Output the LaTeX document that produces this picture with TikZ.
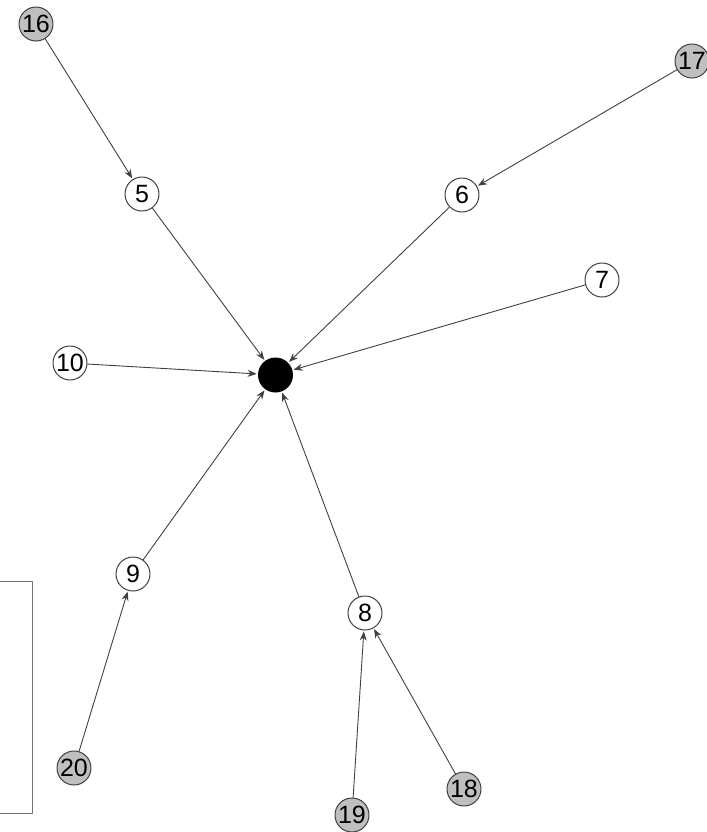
\documentclass[tikz,border=0pt]{standalone}
\usepackage{fontspec}
\setmainfont{Liberation Sans}
\usetikzlibrary{arrows.meta}
\begin{document}
\begin{tikzpicture}[x=0.5pt, y=-0.5pt, line join=round, line cap=round,
  vtx/.style={circle, draw=black!75, line width=0.5pt, fill=white, minimum size=17pt, inner sep=0pt, font=\fontsize{12.5}{14}\selectfont},
  leaf/.style={vtx, fill=black!25},
  hub/.style={circle, fill=black, minimum size=17.5pt, inner sep=0pt},
  edge/.style={draw=black!75, line width=0.45pt, -{Stealth[length=4.5pt, width=3.5pt]}, shorten >=0.5pt}]
\useasboundingbox (0,0) rectangle (707,832);
% frame at the left
\draw[black!55, line width=0.5pt] (0,581) -- (32,581) -- (32,813) -- (0,813);
% nodes
\node[hub] (c) at (275.5,375) {};
\node[vtx] (n5) at (142,194) {5};
\node[vtx] (n6) at (462,195) {6};
\node[vtx] (n7) at (602,280) {7};
\node[vtx] (n10) at (70,363) {10};
\node[vtx] (n9) at (133,574) {9};
\node[vtx] (n8) at (365,613) {8};
\node[leaf] (n16) at (36,24) {16};
\node[leaf] (n17) at (692,61) {17};
\node[leaf] (n20) at (74,768) {20};
\node[leaf] (n19) at (352,815) {19};
\node[leaf] (n18) at (464,789) {18};
% edges
\foreach \a/\b in {n16/n5, n17/n6, n5/c, n6/c, n7/c, n10/c, n9/c, n8/c, n20/n9, n19/n8, n18/n8}
  \draw[edge] (\a) -- (\b);
\end{tikzpicture}
\end{document}
